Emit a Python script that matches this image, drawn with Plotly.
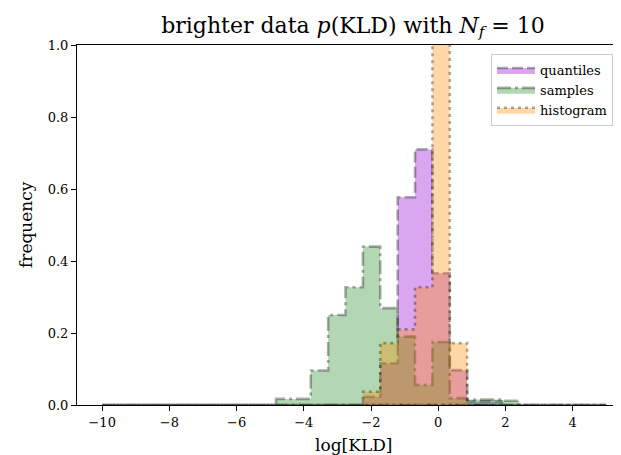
import numpy as np
import plotly.graph_objects as go

# ---- data ----
bin_edges = list(np.linspace(-10, 5, 30))
quantiles = [0, 0, 0, 0, 0, 0, 0, 0, 0, 0,
             0, 0, 0, 0, 0, 0.023, 0.116, 0.577, 0.71, 0.366,
             0.097, 0.01, 0.01, 0, 0, 0, 0, 0, 0]
samples = [0, 0, 0, 0, 0, 0, 0, 0, 0, 0,
           0.017, 0.017, 0.096, 0.25, 0.327, 0.44, 0.269, 0.19, 0.056, 0.175,
           0.019, 0.015, 0.015, 0.012, 0, 0, 0, 0, 0]
histogram = [0, 0, 0, 0, 0, 0, 0, 0, 0, 0,
             0, 0, 0, 0, 0, 0.037, 0.172, 0.21, 0.327, 1.02,
             0.172, 0, 0, 0, 0, 0, 0, 0, 0]
series_names = ["quantiles", "samples", "histogram"]
x_ticks = [-10, -8, -6, -4, -2, 0, 2, 4]
y_ticks = [0.0, 0.2, 0.4, 0.6, 0.8, 1.0]

fills = ["rgba(148,0,211,0.35)", "rgba(34,139,34,0.35)", "rgba(255,140,0,0.35)"]
dashes = ["11px,4px", "14px,4px,3px,4px", "3px,4px"]
edge = "rgba(0,0,0,0.32)"
FONT = "DejaVu Serif"

W, H = 621, 455
L, R, T, B = 69, 0, 37, 58
PW, PH = W - L - R, H - T - B
PX_PER_UNIT = 33.6


def step_outline(edges, vals):
    xs = [edges[0]]
    ys = [0]
    for i, v in enumerate(vals):
        xs += [edges[i], edges[i + 1]]
        ys += [v, v]
    xs += [edges[-1], edges[0]]
    ys += [0, 0]
    return xs, ys


fig = go.Figure()
for name, vals, fc, dsh in zip(series_names, [quantiles, samples, histogram], fills, dashes):
    xs, ys = step_outline(bin_edges, vals)
    fig.add_trace(go.Scatter(
        x=xs, y=ys, mode="lines", fill="toself", fillcolor=fc,
        line=dict(color=edge, width=2.6, dash=dsh),
        name=name, hoverinfo="skip"))

fig.update_layout(
    width=W, height=H,
    margin=dict(l=L, r=R, t=T, b=B),
    paper_bgcolor="white", plot_bgcolor="white",
    font=dict(family=FONT, color="black", size=13),
    title=dict(text="brighter data <i>p</i>(KLD) with <i>N<sub>f</sub></i> = 10",
               x=0.5, xref="paper", xanchor="center",
               y=1 - 17 / H, yref="container", yanchor="middle",
               font=dict(family=FONT, size=22)),
    showlegend=True,
    legend=dict(x=(483 - L) / PW, y=(397 - 46) / PH, xanchor="left", yanchor="top",
                bgcolor="white", bordercolor="rgba(0,0,0,0.2)", borderwidth=1,
                font=dict(family=FONT, size=13), itemwidth=38,
                tracegroupgap=0),
    annotations=[
        dict(text="log[KLD]", x=0.5, xref="paper", y=(397 - 437) / PH, yref="paper",
             xanchor="center", yanchor="middle", showarrow=False,
             font=dict(family=FONT, size=17)),
        dict(text="frequency", x=(18 - L) / PW, xref="paper", y=0.5, yref="paper",
             xanchor="center", yanchor="middle", showarrow=False, textangle=-90,
             font=dict(family=FONT, size=17)),
    ],
)
fig.update_xaxes(
    range=[-10.75, -10.75 + PW / PX_PER_UNIT],
    tickmode="array", tickvals=x_ticks,
    ticktext=[("\u2212" + str(-t)) if t < 0 else str(t) for t in x_ticks],
    ticks="outside", ticklen=5, tickwidth=1, tickcolor="black",
    showline=True, linecolor="black", linewidth=1, mirror=True,
    showgrid=False, zeroline=False,
    tickfont=dict(family=FONT, size=13),
)
fig.update_yaxes(
    range=[0, 1],
    tickmode="array", tickvals=y_ticks,
    ticktext=["%.1f" % t for t in y_ticks],
    ticks="outside", ticklen=5, tickwidth=1, tickcolor="black",
    showline=True, linecolor="black", linewidth=1, mirror=False,
    showgrid=False, zeroline=False,
    tickfont=dict(family=FONT, size=13),
)

fig.write_html("out.html")
